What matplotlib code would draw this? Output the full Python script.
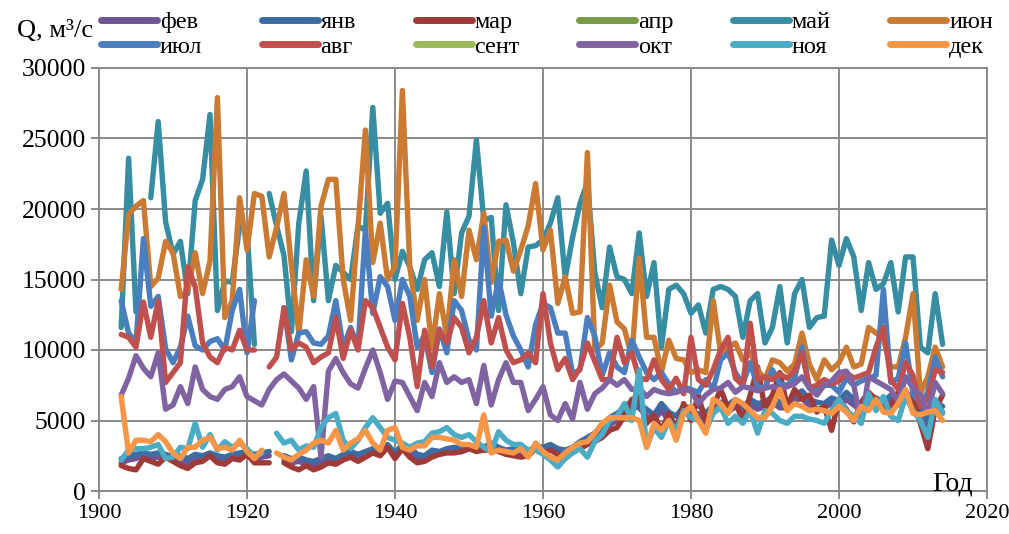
import numpy as np
import matplotlib
matplotlib.use("Agg")
import matplotlib.pyplot as plt
from matplotlib.lines import Line2D

nan = np.nan
years = list(range(1903, 2015))

feb = [2000, 2200, 2300, 2500, 2300, 2400, 2400, 2200, 2100, 2000,
       2400, 2300, 2500, 2200, 2100, 2400, 2500, 2600, 2300, 2400,
       2500, nan, 2200, 2000, 2100, 1900, 1800, 2000, 2200, 2100,
       2400, 2500, 2300, 2600, 2800, 2600, 3100, 2500, 3100, 2800,
       2300, 2300, 2600, 2600, 2800, 2800, 2800, 3000, 3000, 2900,
       3100, 2900, 2700, 2700, 2700, 2600, 3000, 2900, 3100, 2700,
       2500, 2900, 3200, 3500, 3800, 4200, 4700, 5000, 5500, 6000,
       5900, 5300, 5000, 5700, 5000, 4700, 5600, 5600, 5500, 5000,
       5600, 5900, 5600, 6000, 5400, 6100, 5800, 6000, 6300, 5900,
       5900, 6400, 6600, 6000, 5800, 5900, 6200, 6000, 6500, 6100,
       5700, 6000, 6200, 5900, 6400, 6100, 6500, 6200, 5500, 4500,
       5900, 5600]

jan = [2300, 2500, 2600, 2700, 2600, 2700, 2600, 2400, 2500, 2300,
       2600, 2500, 2700, 2500, 2400, 2600, 2700, 2800, 2600, 2700,
       2800, nan, 2500, 2300, 2400, 2200, 2100, 2300, 2500, 2300,
       2600, 2800, 2600, 2800, 3000, 2800, 3300, 2700, 3300, 3100,
       2600, 2500, 2900, 2800, 3000, 3100, 3000, 3200, 3200, 3100,
       3400, 3100, 2900, 3000, 2900, 2800, 3200, 3100, 3300, 3000,
       2900, 3100, 3500, 3800, 4100, 4600, 5200, 5500, 5900, 6400,
       6200, 5800, 5400, 6200, 5600, 5300, 6000, 5900, 6100, 5500,
       6100, 6300, 6100, 6500, 5900, 6500, 6200, 6300, 6700, 6300,
       6200, 6800, 7100, 6500, 6300, 6200, 6600, 6400, 7000, 6500,
       6100, 6400, 6600, 6300, 6800, 6500, 7000, 6600, 6000, 5000,
       6300, 6000]

mar = [1800, 1600, 1500, 2300, 2100, 1900, 2400, 2100, 1800, 1600,
       2000, 2100, 2500, 2000, 1900, 2300, 2200, 2600, 2000, 2000,
       2000, nan, 2000, 1700, 1500, 1800, 1500, 1700, 2000, 1900,
       2200, 2400, 2100, 2400, 2700, 2500, 3100, 2300, 3000, 2400,
       2000, 2100, 2400, 2600, 2700, 2700, 2800, 3000, 2800, 2900,
       2900, 2800, 2600, 2500, 2400, 2500, 3000, 2700, 2900, 2600,
       2300, 2800, 3000, 3300, 3500, 3800, 4300, 4500, 5300, 6500,
       6700, 4800, 5400, 4300, 5500, 4400, 6200, 5000, 6800, 4800,
       6000, 7200, 5900, 6300, 5000, 6800, 8800, 5800, 6800, 8400,
       6000, 7200, 6500, 6800, 5600, 6000, 4300, 6500, 5800, 4900,
       6300, 7000, 6500, 5800, 6000, 7000, 6800, 6600, 4800, 3000,
       5800, 6800]

apr = []
sep = []

may = [11600, 23600, 12700, nan, 20800, 26200, 19100, 16800, 17700, 14000,
       20600, 22100, 26700, 12800, 14900, 14800, 18800, 18500, 10400, nan,
       21100, 18800, 16700, 11300, 19000, 22700, 13500, 19500, 13500, 16000,
       15500, 15000, 18800, 18500, 27200, 19700, 20400, 15000, 17000, 15900,
       14300, 16400, 16900, 14500, 19800, 14000, 18300, 19500, 24900, 19200,
       19400, 12800, 20300, 17600, 14000, 17300, 17400, 17800, 19000, 20800,
       15100, 18000, 20400, 21900, 15500, 13000, 17300, 15200, 15000, 14000,
       18300, 13800, 16200, 10200, 14300, 14600, 14000, 12600, 13200, 11200,
       14300, 14500, 14300, 13800, 10900, 13500, 14000, 10500, 11600, 14500,
       10500, 14000, 15000, 11600, 12300, 12400, 17800, 16000, 17900, 16600,
       12800, 16200, 14300, 14700, 16200, 12700, 16600, 16600, 10200, 9800,
       14000, 10400]

jun = [14300, 19600, 20200, 20600, 14500, 15100, 17700, 16900, 13800, 14200,
       16900, 14000, 16300, 27900, 12300, 13500, 20800, 17100, 21100, 20900,
       16600, 18700, 21100, 16000, 11200, 16400, 13800, 20200, 22100, 22100,
       15000, 12100, 18700, 25600, 16200, 19000, 15000, 15900, 28400, 15900,
       12100, 15000, 10200, 14000, 11000, 16400, 13800, 18500, 16400, 19700,
       14800, 17700, 17800, 15600, 17100, 18800, 21800, 17100, 18500, 13300,
       15200, 12600, 12700, 24000, 10000, 10500, 14600, 12000, 11500, 9500,
       16500, 10900, 10900, 8400, 10700, 9400, 9300, 8400, 8600, 8400,
       13500, 9800, 10200, 10500, 9300, 9800, 8600, 7900, 9300, 9100,
       8500, 9000, 11200, 9000, 7900, 9300, 8600, 9100, 10200, 8800,
       9000, 11600, 11200, 10800, 8800, 8800, 10900, 14000, 6900, 8100,
       10200, 8800]

jul = [13500, 11200, 10500, 17900, 13100, 13800, 10100, 9100, 10200, 12400,
       10300, 10000, 10600, 10800, 10000, 12800, 14300, 9800, 13500, nan,
       nan, nan, 13000, 9300, 11200, 11300, 10500, 10400, 11000, 13500,
       10200, 11600, 10200, 18500, 12600, 15200, 14500, 12100, 15000, 13800,
       10200, 11000, 8400, 11500, 9800, 13500, 12800, 10700, 10000, 18700,
       12400, 15000, 12500, 11000, 10000, 8800, 11800, 13300, 13000, 11200,
       11200, 8300, 8600, 12300, 11000, 8200, 9800, 8800, 8400, 10700,
       9500, 8400, 7900, 8400, 7600, 7000, 7400, 7200, 7000, 7900,
       7200, 9300, 9800, 8400, 7600, 9100, 7400, 7300, 8600, 7600,
       7500, 8000, 10200, 7300, 7100, 7500, 7500, 7000, 8000, 7500,
       7800, 8000, 8200, 14300, 7700, 8000, 10500, 6900, 6200, 7000,
       9500, 8100]

aug = [11100, 10900, 10200, 13400, 10900, 13500, 7700, 8400, 9100, 15900,
       14500, 10500, 9500, 9100, 10200, 10000, 11400, 10000, 10000, nan,
       8800, 9500, 13000, 10000, 10500, 10200, 9100, 9500, 9800, 12300,
       9400, 11400, 10000, 13500, 13000, 11600, 10200, 9300, 13300, 10900,
       7400, 11400, 8800, 11400, 10500, 12300, 11600, 9800, 10900, 13500,
       10500, 12300, 10000, 9100, 9300, 9800, 9100, 14000, 10500, 8600,
       9400, 7900, 8700, 10500, 9200, 7900, 7900, 10900, 9100, 9800,
       8000, 7900, 9300, 7900, 7200, 8000, 6900, 10900, 7900, 7500,
       8600, 10000, 10900, 8000, 7500, 11900, 7900, 8100, 7900, 8300,
       8000, 8500, 9800, 7300, 7500, 7900, 7600, 7800, 8400, 8000,
       8200, 8400, 10200, 11600, 7900, 7200, 9100, 8200, 6000, 6500,
       8600, 8400]

oct_ = [6800, 8000, 9600, 8700, 8100, 9800, 5800, 6100, 7400, 6200,
        8800, 7200, 6700, 6500, 7200, 7400, 8100, 6700, 6400, 6100,
        7200, 7900, 8300, 7800, 7300, 6500, 7400, 2400, 8500, 9400,
        8400, 7600, 7300, 8700, 10000, 8400, 6500, 7800, 7700, 6700,
        5700, 7700, 6700, 9100, 7700, 8100, 7700, 7900, 6200, 8900,
        6100, 7900, 9100, 7700, 7700, 5700, 6500, 7400, 5400, 5000,
        6200, 5100, 7700, 5800, 6900, 7300, 7900, 7500, 7900, 7200,
        7300, 6700, 7200, 7000, 6900, 7000, 7200, 7100, 6200, 6800,
        7200, 7300, 7700, 7000, 7400, 7300, 7100, 7300, 7400, 7300,
        7400, 7600, 8100, 7300, 6800, 7500, 7800, 8400, 8500, 7500,
        4800, 8100, 7800, 7500, 7200, 6300, 8100, 7300, 6800, 5500,
        7700, 6900]

nov = [2200, 2900, 3000, 3000, 3100, 3300, 2300, 2400, 3100, 3000,
       4800, 3100, 4000, 2900, 3500, 3100, 3400, 3000, 2400, 2700,
       nan, 4100, 3400, 3600, 2900, 3200, 3100, 4500, 5200, 5500,
       3600, 3000, 3600, 4500, 5200, 4500, 3800, 3600, 3400, 3100,
       3400, 3500, 4100, 4200, 4500, 4000, 3800, 4000, 3500, 3100,
       2800, 4200, 3600, 3300, 3300, 2900, 2900, 2600, 2200, 1700,
       2300, 2700, 3000, 2400, 3500, 4000, 5000, 5300, 6200, 5000,
       8600, 3100, 4500, 3800, 5000, 4300, 5700, 5200, 5000, 4300,
       5500, 6000, 4800, 5300, 4800, 5700, 4100, 5700, 5500, 5000,
       4800, 5300, 5300, 5100, 5000, 4800, 5700, 6500, 5700, 5300,
       4800, 6900, 5700, 6700, 5300, 5000, 6700, 5700, 5000, 3800,
       6500, 5500]

dec = [6700, 2700, 3600, 3600, 3500, 4000, 3500, 2700, 2300, 3100,
       3100, 3600, 3800, 3000, 3100, 2900, 3600, 2800, 2300, 2900,
       nan, 2700, 2400, 2200, 2600, 2900, 3400, 3600, 3400, 4300,
       2900, 3400, 3700, 4300, 3400, 2900, 4300, 4500, 3100, 2900,
       3200, 3200, 3800, 3800, 3700, 3600, 3300, 3300, 3100, 5400,
       2700, 2900, 2800, 2700, 3000, 2400, 3400, 2800, 2400, 2200,
       2700, 3100, 3400, 3500, 4100, 4800, 5200, 5200, 5200, 5200,
       5000, 3100, 4800, 4300, 5000, 3600, 5500, 6000, 5000, 4100,
       6500, 6200, 5500, 6500, 6200, 5700, 5200, 5200, 6000, 7200,
       5700, 6200, 6000, 5700, 5800, 5700, 5500, 6000, 5600, 5000,
       6000, 5700, 6500, 5600, 5500, 6200, 7200, 5500, 5400, 5600,
       5700, 5000]

labels = ["фев", "янв", "мар", "апр", "май", "июн",
          "июл", "авг", "сент", "окт", "ноя", "дек"]
series = [feb, jan, mar, apr, may, jun, jul, aug, sep, oct_, nov, dec]
colors = ["#6E5596", "#3D6CA3", "#9E3B39", "#7A9A48", "#378EA2", "#CB7A33",
          "#4A7EBF", "#C0504D", "#9BBB59", "#8064A2", "#4BACC6", "#F79646"]

plt.rcParams['font.family'] = ['Liberation Serif', 'DejaVu Serif']

fig = plt.figure(figsize=(10.09, 5.34), dpi=100)
ax = fig.add_axes([99/1009, 43/534, 888/1009, 423/534])

handles = []
for lab, vals, c in zip(labels, series, colors):
    if len(vals):
        ax.plot(years, np.array(vals, dtype=float), color=c, lw=3.9,
                solid_joinstyle='round', solid_capstyle='round')
    handles.append(Line2D([], [], color=c, lw=5, solid_capstyle='round'))

gcol = "#8A8A8A"
ax.set_xlim(1900, 2020)
ax.set_ylim(0, 30000)
ax.set_xticks(range(1900, 2021, 20))
ax.set_yticks(range(0, 30001, 5000))
ax.grid(True, color=gcol, lw=1.4)
ax.set_axisbelow(True)
for s in ax.spines.values():
    s.set_color(gcol)
    s.set_linewidth(1.4)
ax.tick_params(axis='both', colors=gcol, length=6, width=1.4, labelcolor='black',
               labelsize=16)
ax.tick_params(axis='y', labelsize=18.5)

# legend in row-major order (matplotlib fills column-major)
order = []
for j in range(6):
    order += [j, j + 6]
fig.legend([handles[i] for i in order], [labels[i] for i in order],
           ncol=6, loc='upper left', bbox_to_anchor=(101/1009, 1.0 - 11/534),
           frameon=False, fontsize=17.5, handlelength=2.3, handletextpad=0.12,
           columnspacing=2.45, labelspacing=0.12, borderaxespad=0, borderpad=0)

fig.text(17/1009, 1 - 31/534, "Q, м³/с", fontsize=19, va='center', ha='left')
ax.text(0.984, -0.012, "Год", transform=ax.transAxes, ha='right', va='bottom',
        fontsize=20)

fig.savefig("out.png", dpi=100)
